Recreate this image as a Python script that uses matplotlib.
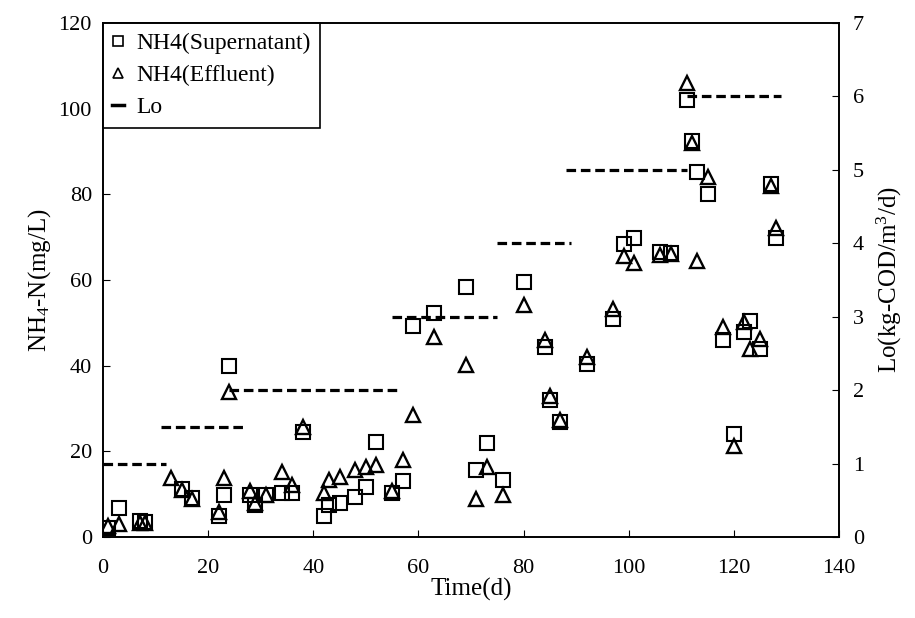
import matplotlib
matplotlib.use("Agg")
import matplotlib.pyplot as plt
from matplotlib.lines import Line2D

plt.rcParams['font.family'] = ['Liberation Serif', 'DejaVu Serif']
plt.rcParams['mathtext.fontset'] = 'custom'
plt.rcParams['mathtext.rm'] = 'Liberation Serif'
plt.rcParams['mathtext.it'] = 'Liberation Serif:italic'

# NH4 in supernatant (squares)
sup_day = [1, 3, 7, 8, 15, 17, 22, 23, 24, 28, 29, 31, 34, 36, 38, 42, 43, 45, 48,
           50, 52, 55, 57, 59, 63, 69, 71, 73, 76, 80, 84, 85, 87, 92, 97, 99, 101,
           106, 108, 111, 112, 113, 115, 118, 120, 122, 123, 125, 127, 128]
sup_val = [2.0, 6.7, 3.8, 3.5, 11.3, 9.0, 5.0, 9.8, 40.0, 9.8, 7.5, 9.8, 10.2, 10.2,
           24.6, 4.9, 7.5, 8.0, 9.4, 11.6, 22.1, 10.2, 13.1, 49.3, 52.4, 58.3, 15.6,
           21.9, 13.3, 59.5, 44.4, 32.0, 26.9, 40.5, 50.8, 68.4, 69.7, 66.5, 66.3,
           102.0, 92.5, 85.3, 80.1, 46.0, 24.0, 47.9, 50.5, 43.8, 82.3, 69.7]

# NH4 in effluent (triangles)
eff_day = [1, 3, 7, 8, 13, 15, 17, 22, 23, 24, 28, 29, 31, 34, 36, 38, 42, 43, 45,
           48, 50, 52, 55, 57, 59, 63, 69, 71, 73, 76, 80, 84, 85, 87, 92, 97, 99,
           101, 106, 108, 111, 112, 113, 115, 118, 120, 122, 123, 125, 127, 128]
eff_val = [2.6, 3.0, 3.2, 3.2, 13.7, 11.0, 8.8, 5.8, 13.7, 33.9, 10.8, 8.0, 9.8, 15.2,
           12.1, 25.7, 10.2, 13.3, 14.1, 15.6, 16.4, 16.8, 10.8, 18.1, 28.5, 46.6,
           40.2, 8.8, 16.4, 9.8, 54.2, 46.0, 33.0, 27.3, 42.0, 53.2, 65.6, 63.9, 65.8,
           66.0, 106.1, 92.0, 64.4, 84.1, 49.0, 21.2, 50.3, 44.0, 46.2, 82.0, 72.1]

# Organic loading rate periods (right axis)
lo_start = [0, 11, 24, 55, 75, 88, 111]
lo_end = [12, 27, 56, 75, 89, 111, 129]
lo_val = [1.0, 1.5, 2.0, 3.0, 4.0, 5.0, 6.0]

fig = plt.figure(figsize=(9.15, 6.18), dpi=100)
ax = fig.add_axes([0.1126, 0.131, 0.8044, 0.8318])
ax2 = ax.twinx()

ax.plot(sup_day, sup_val, linestyle='none', marker='s', markersize=10.5,
        markerfacecolor='none', markeredgecolor='black', markeredgewidth=1.5, zorder=3)
ax.plot(eff_day, eff_val, linestyle='none', marker='^', markersize=10.5,
        markerfacecolor='none', markeredgecolor='black', markeredgewidth=1.7, zorder=3)

for s, e, v in zip(lo_start, lo_end, lo_val):
    ax2.plot([s, e], [v, v], color='black', linestyle=(0, (3, 1.5)), linewidth=2.3)

ax.set_xlim(0, 140)
ax.set_ylim(0, 120)
ax2.set_ylim(0, 7)
ax.set_xticks(range(0, 141, 20))
ax.set_yticks(range(0, 121, 20))
ax2.set_yticks(range(0, 8))

ax.tick_params(axis='both', direction='in', length=5, labelsize=16, pad=8)
ax2.tick_params(axis='y', direction='in', length=5, labelsize=16, pad=10)
ax.tick_params(axis='x', pad=16)
for sp in list(ax.spines.values()) + list(ax2.spines.values()):
    sp.set_linewidth(1.2)

ax.set_xlabel('Time(d)', fontsize=18, labelpad=0)
ax.set_ylabel(r'NH$_4$-N(mg/L)', fontsize=18, labelpad=4)
ax2.set_ylabel(r'Lo(kg-COD/m$^3$/d)', fontsize=18, labelpad=8)

handles = [
    Line2D([], [], linestyle='none', marker='s', markersize=7.5, markerfacecolor='none',
           markeredgecolor='black', markeredgewidth=1.2),
    Line2D([], [], linestyle='none', marker='^', markersize=7.5, markerfacecolor='none',
           markeredgecolor='black', markeredgewidth=1.2),
    Line2D([], [], color='black', linewidth=2.5),
]
leg = ax.legend(handles, ['NH4(Supernatant)', 'NH4(Effluent)', 'Lo'],
                loc='upper left', bbox_to_anchor=(0, 1), borderaxespad=0,
                fontsize=17, frameon=True, fancybox=False, handlelength=0.5,
                handletextpad=0.5, labelspacing=0.45, borderpad=0.4)
leg.get_frame().set_edgecolor('black')
leg.get_frame().set_linewidth(1.2)
leg.get_frame().set_alpha(1)
leg.set_zorder(10)

fig.savefig('out.png', dpi=100)
